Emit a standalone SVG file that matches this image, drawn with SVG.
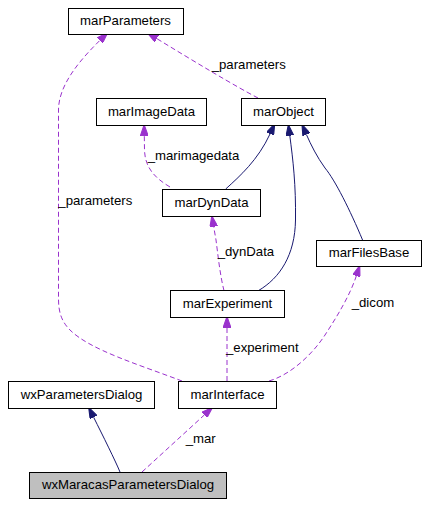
<svg xmlns="http://www.w3.org/2000/svg" width="427" height="506" viewBox="0 0 427 506">
<style>
.node rect{fill:#ffffff;stroke:#000000;stroke-width:1}
.node.cur rect{fill:#bfbfbf}
.node text{font-family:"Liberation Sans",Arial,sans-serif;font-size:13.2px;fill:#000000;text-anchor:middle}
.lbl{font-family:"Liberation Sans",Arial,sans-serif;font-size:13.2px;fill:#000000}
.inh{fill:none;stroke:#191970;stroke-width:1;marker-end:url(#ah)}
.use{fill:none;stroke:#9a32cd;stroke-width:1;stroke-dasharray:5,3;marker-end:url(#ap)}
</style>
<defs>
<marker id="ah" markerUnits="userSpaceOnUse" markerWidth="11" markerHeight="8" viewBox="0 0 10 7" refX="0" refY="3.5" orient="auto"><path d="M0,0 L10,3.5 L0,7 z" fill="#191970" stroke="#191970"/></marker>
<marker id="ap" markerUnits="userSpaceOnUse" markerWidth="11" markerHeight="8" viewBox="0 0 10 7" refX="0" refY="3.5" orient="auto"><path d="M0,0 L10,3.5 L0,7 z" fill="#9a32cd" stroke="#9a32cd"/></marker>
</defs>
<rect width="427" height="506" fill="#ffffff"/>
<g id="connectors">
<path class="inh" d="M120,472 C115,460 103,436 93.6,417.2"/>
<path class="use" d="M142,472 L204.3,415"/>
<path class="use" d="M227,381 L227,327.5"/>
<path class="use" d="M269,381 C290,375 312,355 325,335 C338,315 350,295 356.3,276"/>
<path class="use" d="M182,381 C140,365 90,350 70,330 C58,318 58.5,305 58.5,295 L58.5,110 C58.5,85 80,60 99.8,40.5"/>
<path class="use" d="M258,98 C235,86 195,62 156.8,38.6"/>
<path class="use" d="M170,187 C155,178 145,168 144.5,150 L144.3,135.7"/>
<path class="inh" d="M225.7,189 C240,176 258,160 270.1,133.8"/>
<path class="inh" d="M258.3,290.7 C280,278 295,255 295.5,220 C296,185 293,160 289.8,135.6"/>
<path class="inh" d="M362.7,240.3 C350,210 335,180 325,168 C317,157 311,145 306.4,134.5"/>
<path class="use" d="M224,290.7 C220,275 218,255 216,240 L213.7,226.7"/>
<text class="lbl" x="211.7" y="69">_parameters</text>
<text class="lbl" x="147.7" y="160">_marimagedata</text>
<text class="lbl" x="58.3" y="205">_parameters</text>
<text class="lbl" x="217.7" y="256">_dynData</text>
<text class="lbl" x="351.7" y="307">_dicom</text>
<text class="lbl" x="226" y="352">_experiment</text>
<text class="lbl" x="185.7" y="443">_mar</text>
</g>
<g id="marParameters" class="node"><rect x="68.5" y="8.5" width="115" height="26"/><text x="125.5" y="25">marParameters</text></g>
<g id="marImageData" class="node"><rect x="96.5" y="98.5" width="110" height="27"/><text x="151.5" y="115.5">marImageData</text></g>
<g id="marObject" class="node"><rect x="241.5" y="98.5" width="84" height="27"/><text x="283.5" y="115.5">marObject</text></g>
<g id="marDynData" class="node"><rect x="162.5" y="189.5" width="98" height="27"/><text x="211.5" y="206.5">marDynData</text></g>
<g id="marFilesBase" class="node"><rect x="316.5" y="240.5" width="105" height="26"/><text x="369" y="257">marFilesBase</text></g>
<g id="marExperiment" class="node"><rect x="170.5" y="290.5" width="114" height="27"/><text x="227.5" y="307.5">marExperiment</text></g>
<g id="wxParametersDialog" class="node"><rect x="8.5" y="381.5" width="146" height="27"/><text x="81.5" y="398.5">wxParametersDialog</text></g>
<g id="marInterface" class="node"><rect x="178.5" y="381.5" width="98" height="27"/><text x="227.5" y="398.5">marInterface</text></g>
<g id="wxMaracasParametersDialog" class="node cur"><rect x="29.5" y="472.5" width="197" height="26"/><text x="128" y="489">wxMaracasParametersDialog</text></g>
</svg>
